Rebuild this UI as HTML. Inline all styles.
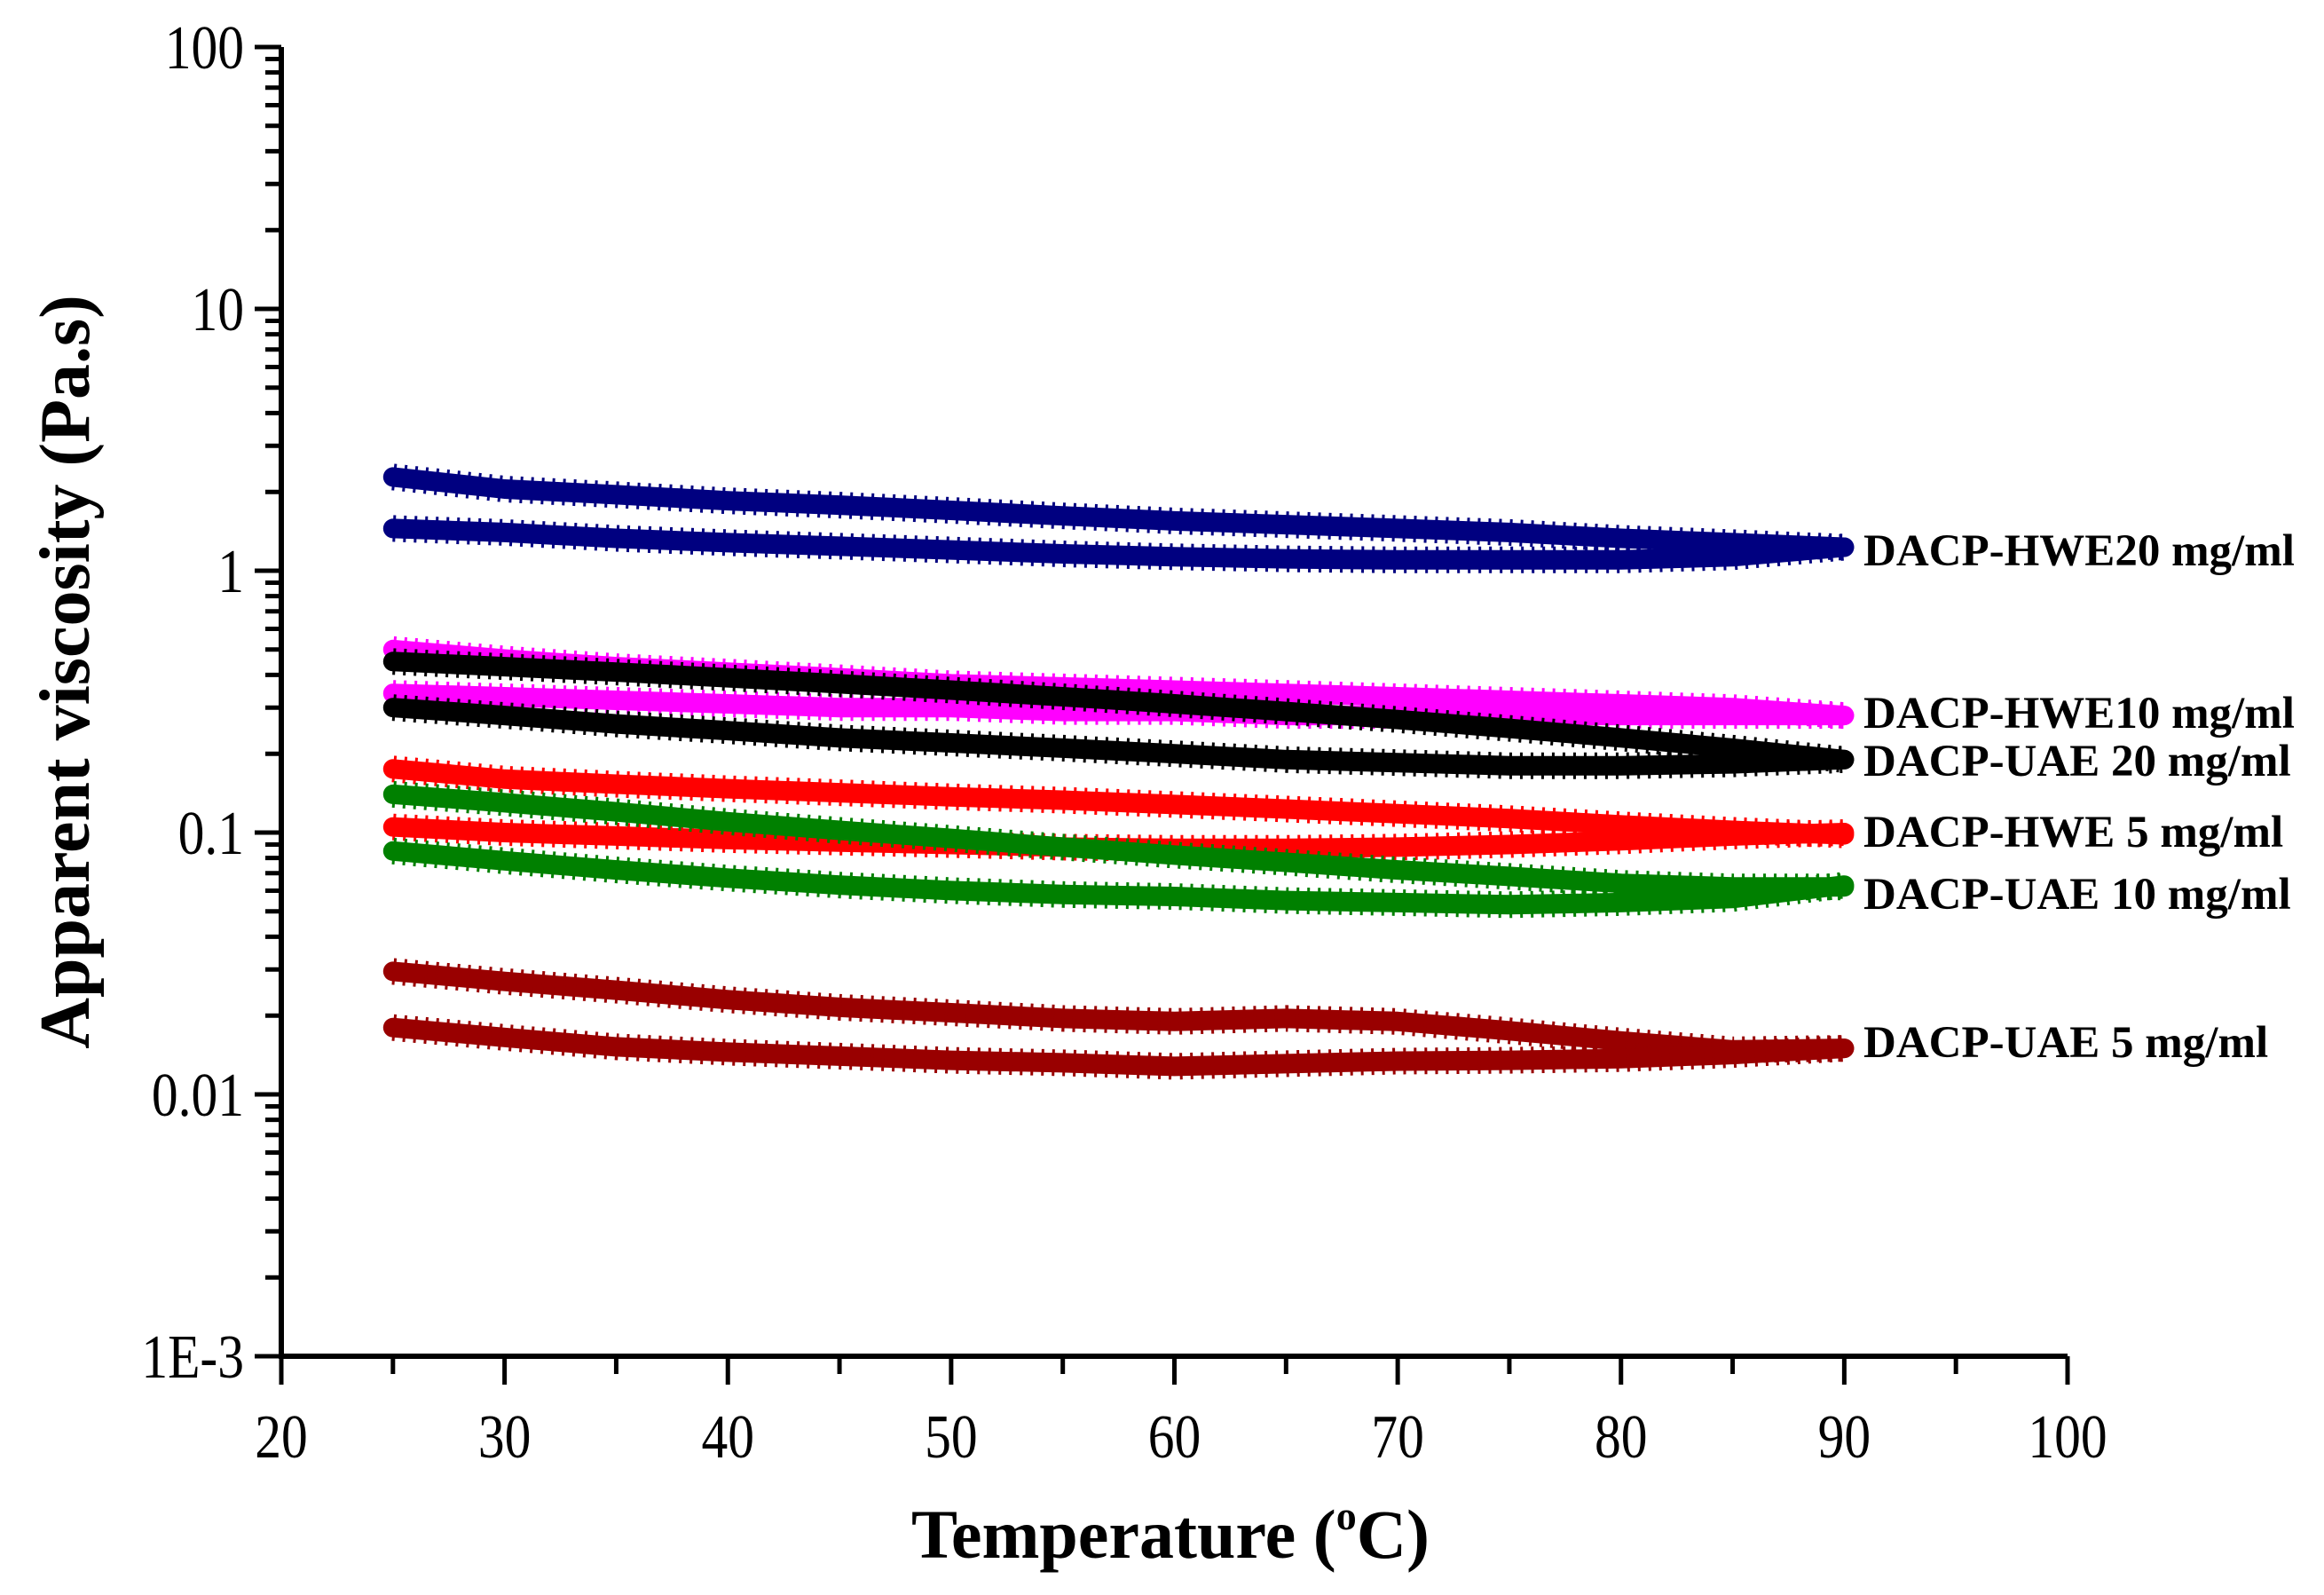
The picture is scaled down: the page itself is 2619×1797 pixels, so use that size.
<!DOCTYPE html>
<html><head><meta charset="utf-8"><style>
html,body{margin:0;padding:0;background:#fff;}
svg{display:block;font-family:"Liberation Serif",serif;}
</style></head><body>
<svg id="chart" width="2619" height="1797" viewBox="0 0 2619 1797" xmlns="http://www.w3.org/2000/svg">
<g id="axes"></g>
<g id="series"></g>
<g id="labels"></g>
<text transform="translate(100,757) rotate(-90)" text-anchor="middle" font-size="80" font-weight="bold">Apparent viscosity (Pa.s)</text>
<text x="1319" y="1755" text-anchor="middle" font-size="78" font-weight="bold">Temperature (<tspan font-size="46" dy="-32">o</tspan><tspan dy="32">C)</tspan></text>
</svg>
<script>
const temps = [25,30,35,40,45,50,55,60,65,70,75,80,85,90];
const navyU = [2.28,2.05,1.95,1.85,1.78,1.7,1.62,1.55,1.5,1.45,1.4,1.33,1.28,1.23];
const navyL = [1.45,1.4,1.33,1.28,1.24,1.2,1.16,1.13,1.11,1.1,1.1,1.1,1.13,1.23];
const magU = [0.5,0.46,0.43,0.41,0.39,0.37,0.36,0.35,0.34,0.33,0.32,0.31,0.3,0.28];
const magL = [0.34,0.33,0.32,0.31,0.3,0.3,0.29,0.29,0.28,0.28,0.28,0.28,0.28,0.28];
const blkU = [0.45,0.43,0.41,0.39,0.37,0.35,0.33,0.31,0.29,0.27,0.25,0.23,0.21,0.19];
const blkL = [0.30,0.28,0.26,0.245,0.23,0.22,0.21,0.2,0.19,0.185,0.18,0.18,0.183,0.19];
const redU = [0.175,0.16,0.153,0.147,0.142,0.137,0.133,0.128,0.123,0.118,0.113,0.107,0.102,0.098];
const redL = [0.105,0.1,0.097,0.094,0.092,0.09,0.088,0.087,0.087,0.088,0.09,0.093,0.097,0.1];
const grnU = [0.14,0.13,0.12,0.11,0.102,0.095,0.088,0.082,0.077,0.072,0.068,0.064,0.062,0.062];
const grnL = [0.085,0.078,0.072,0.067,0.063,0.06,0.058,0.057,0.055,0.054,0.053,0.054,0.056,0.063];
const drU = [0.0295,0.027,0.025,0.023,0.0215,0.0205,0.0195,0.019,0.0195,0.019,0.0175,0.016,0.0148,0.015];
const drL = [0.018,0.0165,0.0152,0.0145,0.014,0.0135,0.0132,0.0128,0.0131,0.0134,0.0135,0.0137,0.0142,0.015];
const xTicks = [20,30,40,50,60,70,80,90,100];
const yTicks = [100,10,1,0.1,0.01,0.001];
const yTickLabels = ["100","10","1","0.1","0.01","1E-3"];
const labelNames = ["DACP-HWE20 mg/ml","DACP-HWE10 mg/ml","DACP-UAE 20 mg/ml","DACP-HWE 5 mg/ml","DACP-UAE 10 mg/ml","DACP-UAE 5 mg/ml"];

const X0=317,X1=2330,Y0=1528,Y1=53;
const xs=t=>X0+(t-20)/80*(X1-X0);
const ys=v=>Y0-(Math.log10(v)+3)/5*(Y0-Y1);
const NS="http://www.w3.org/2000/svg";
function mk(tag,attrs,parent){const e=document.createElementNS(NS,tag);for(const k in attrs)e.setAttribute(k,attrs[k]);parent.appendChild(e);return e;}
const ax=document.getElementById('axes');
let l=mk('line',{x1:X0,y1:Y1,x2:X0,y2:Y0+3,stroke:'#000','stroke-width':6},ax);


l=mk('line',{x1:X0-3,y1:Y0,x2:X1,y2:Y0,stroke:'#000','stroke-width':6},ax);


xTicks.forEach((t,i)=>{
  const tk=mk('line',{x1:xs(t),y1:Y0,x2:xs(t),y2:Y0+32,stroke:'#000','stroke-width':5},ax);
  
  
  if(i<xTicks.length-1){const m=mk('line',{x1:xs(t+5),y1:Y0,x2:xs(t+5),y2:Y0+20,stroke:'#000','stroke-width':5},ax);
  
  }
  const tx=mk('text',{x:xs(t),y:1642,'text-anchor':'middle','font-size':70,transform:'translate('+xs(t)+',0) scale(0.85,1) translate('+(-xs(t))+',0)'},ax);
  
  
  tx.textContent=t;
});
yTicks.forEach((v,i)=>{
  const tk=mk('line',{x1:X0-30,y1:ys(v),x2:X0,y2:ys(v),stroke:'#000','stroke-width':5},ax);
  
  
  if(i>0){for(let k=2;k<=9;k++){const m=mk('line',{x1:X0-18,y1:ys(v*k),x2:X0,y2:ys(v*k),stroke:'#000','stroke-width':5},ax);
  
  }}
  const xr=X0-42;
  const tx=mk('text',{x:xr,y:ys(v)+24,'text-anchor':'end','font-size':70,transform:'translate('+xr+',0) scale(0.85,1) translate('+(-xr)+',0)'},ax);
  
  
  tx.textContent=yTickLabels[i];
});
const sg=document.getElementById('series');
const seriesList=[[navyU,'#000080','hwe20-up'],[navyL,'#000080','hwe20-down'],[magU,'#ff00ff','hwe10-up'],[magL,'#ff00ff','hwe10-down'],[blkU,'#000000','uae20-up'],[blkL,'#000000','uae20-down'],[redU,'#ff0000','hwe5-up'],[redL,'#ff0000','hwe5-down'],[grnU,'#008000','uae10-up'],[grnL,'#008000','uae10-down'],[drU,'#990000','uae5-up'],[drL,'#990000','uae5-down']];
seriesList.forEach(([vals,col,name])=>{
  const pts=vals.map((v,i)=>xs(temps[i]).toFixed(1)+','+ys(v).toFixed(1)).join(' ');
  const p=mk('polyline',{points:pts,fill:'none',stroke:col,'stroke-width':22,'stroke-linejoin':'round','stroke-linecap':'round'},sg);
  
  
  const d=mk('polyline',{points:pts,fill:'none',stroke:col,'stroke-width':30,'stroke-dasharray':'3 9','stroke-linejoin':'round'},sg);
  
  
});
const lg=document.getElementById('labels');
const labelYs=[620,803,857,937,1007,1174];
labelNames.forEach((n,i)=>{
  const t=mk('text',{x:2100,y:labelYs[i]+17,'font-size':51,'font-weight':'bold'},lg);
  
  
  t.textContent=n;
});
</script>
</body></html>
